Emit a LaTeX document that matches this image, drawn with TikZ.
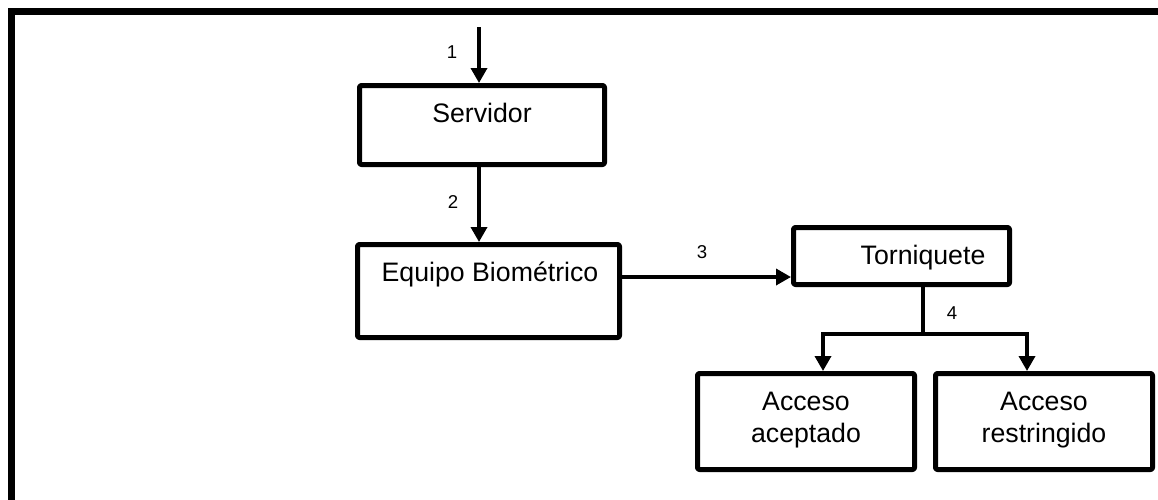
\documentclass[tikz,border=0pt]{standalone}
\usepackage{fontspec}
\setmainfont{Liberation Sans}
\usetikzlibrary{arrows.meta,calc}
\begin{document}
\begin{tikzpicture}[x=1pt,y=-1pt,
  box/.style={draw,line width=5pt,rounded corners=2pt,inner sep=0pt,line join=round},
  conn/.style={line width=3.5pt,-{Triangle[width=16pt,length=15pt]}},
  wire/.style={line width=3.5pt},
  txt/.style={font=\fontsize{26.7}{32}\selectfont,align=center,inner sep=0pt,anchor=base},
  lbl/.style={font=\fontsize{18.6}{22}\selectfont,inner sep=0pt,anchor=base},
  frame/.style={line width=7pt}]
\useasboundingbox (0,0) rectangle (1158,499);
\clip (0,0) rectangle (1158,499);

% outer frame (top and left edges)
\draw[frame] (11.2,520) -- (11.2,11.5) -- (1180,11.5);

% boxes
\node[box,minimum width=245pt,minimum height=79pt] (serv) at (482,125) {};
\node[box,minimum width=262pt,minimum height=93pt] (equipo) at (488.5,291) {};
\node[box,minimum width=216pt,minimum height=57pt] (torn) at (901.5,256) {};
\node[box,minimum width=217pt,minimum height=96pt] (acep) at (806,421.5) {};
\node[box,minimum width=217pt,minimum height=96pt] (rest) at (1044,421.5) {};

% box texts (multi-line texts are anchored on their last baseline)
\node[txt] (servT) at (482,122) {Servidor};
\node[txt] (equipoT) at (490,281) {Equipo Biométrico};
\node[txt] (tornT) at (923,264) {Torniquete};
\node[txt] (acepT) at (806,442) {Acceso\\aceptado};
\node[txt] (restT) at (1044,442) {Acceso\\restringido};

% connector guides
\coordinate (in) at (479,27);
\coordinate (y3) at (0,277);
\coordinate (j) at (923,334);
\coordinate (xa) at (823,0);
\coordinate (xr) at (1027,0);

% connectors
\draw[conn] (in) -- (serv.north -| in);
\draw[conn] (serv.south -| in) -- (equipo.north -| in);
\draw[conn] (equipo.east |- y3) -- (torn.west |- y3);
\draw[wire] (torn.south -| j) -- (j);
\draw[conn] (j) -| (acep.north -| xa);
\draw[conn] (j) -| (rest.north -| xr);

% step numbers
\node[lbl] (n1) at (452,58) {1};
\node[lbl] (n2) at (453,208) {2};
\node[lbl] (n3) at (702,258) {3};
\node[lbl] (n4) at (952,319) {4};
\end{tikzpicture}
\end{document}
